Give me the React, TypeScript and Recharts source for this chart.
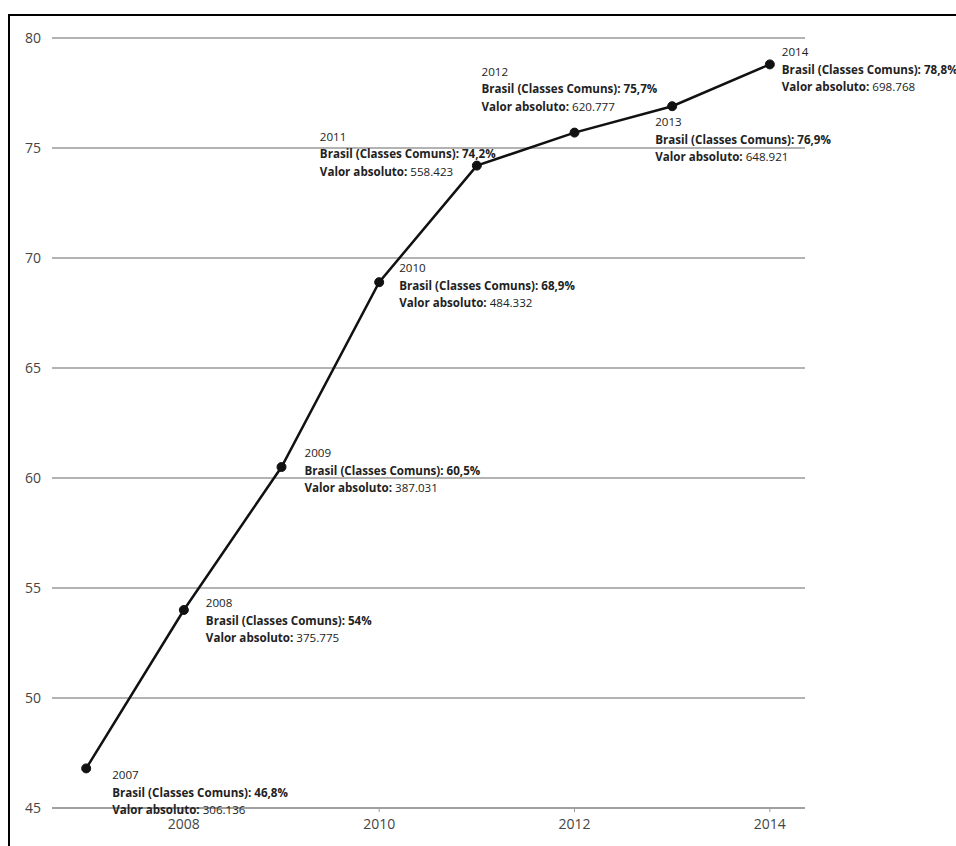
import React from "react";
import { LineChart, Line, XAxis, YAxis, CartesianGrid, LabelList } from "recharts";

const years = [2007, 2008, 2009, 2010, 2011, 2012, 2013, 2014];
const shares = [46.8, 54, 60.5, 68.9, 74.2, 75.7, 76.9, 78.8];
const shareLabels = ["46,8%", "54%", "60,5%", "68,9%", "74,2%", "75,7%", "76,9%", "78,8%"];
const absoluteLabels = ["306.136", "375.775", "387.031", "484.332", "558.423", "620.777", "648.921", "698.768"];
const seriesName = "Brasil (Classes Comuns)";
const yTicks = [45, 50, 55, 60, 65, 70, 75, 80];
const xTicks = [2008, 2010, 2012, 2014];

// label placement (layout only)
const labelOffsets: [number, number][] = [
  [26, 11],
  [22, -3],
  [23, -10],
  [20, -10],
  [-157, -25],
  [-93, -57],
  [-17, 20],
  [12, -8],
];

const data = years.map((y, i) => ({ year: y, value: shares[i], idx: i }));

const FONT = "'Open Sans', 'Noto Sans', sans-serif";

const PointLabel = (props: any) => {
  const { x, y, index } = props;
  const [dx, dy] = labelOffsets[index];
  const tx = x + dx;
  const ty = y + dy;
  return (
    <text x={tx} y={ty} fontFamily={FONT} fontSize={11.6} fill="#222">
      <tspan x={tx} y={ty}>{years[index]}</tspan>
      <tspan x={tx} y={ty + 17.5} fontWeight="bold">{`${seriesName}: ${shareLabels[index]}`}</tspan>
      <tspan x={tx} y={ty + 35} fontWeight="bold">Valor absoluto: </tspan>
      <tspan>{absoluteLabels[index]}</tspan>
    </text>
  );
};

export default function App() {
  return (
    <div
      style={{
        position: "absolute",
        left: 8,
        top: 14,
        width: 948,
        height: 832,
        borderLeft: "2px solid #000",
        borderTop: "2px solid #000",
        boxSizing: "border-box",
        background: "#fff",
        overflow: "hidden",
      }}
    >
      <LineChart
        width={946}
        height={830}
        data={data}
        margin={{ top: 22, right: 151, bottom: 0, left: 0 }}
      >
        <CartesianGrid horizontal vertical={false} stroke="#9a9a9a" strokeWidth={1.5} />
        <XAxis
          dataKey="year"
          type="number"
          domain={[2006.65, 2014.36]}
          ticks={xTicks}
          allowDataOverflow
          height={38}
          axisLine={{ stroke: "#9a9a9a", strokeWidth: 1.5 }}
          tickLine={{ stroke: "#9a9a9a" }}
          tickSize={4}
          tickMargin={7}
          tick={{ fontFamily: FONT, fontSize: 14, fill: "#444" }}
        />
        <YAxis
          type="number"
          domain={[45, 80]}
          ticks={yTicks}
          width={42}
          axisLine={false}
          tickLine={false}
          tickMargin={5}
          tick={{ fontFamily: FONT, fontSize: 14, fill: "#444" }}
        />
        <Line
          type="linear"
          dataKey="value"
          stroke="#111"
          strokeWidth={2.5}
          dot={{ r: 4.5, fill: "#111", stroke: "#111", strokeWidth: 1 }}
          activeDot={false}
          isAnimationActive={false}
        >
          <LabelList dataKey="value" content={<PointLabel />} />
        </Line>
      </LineChart>
    </div>
  );
}
